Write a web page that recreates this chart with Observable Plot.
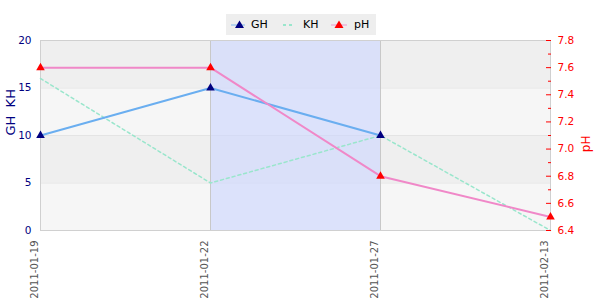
<!DOCTYPE html>
<html><head><meta charset="utf-8">
<script src="https://cdn.jsdelivr.net/npm/d3@7"></script>
<script src="https://cdn.jsdelivr.net/npm/@observablehq/plot@0.6"></script>
<style>
body{margin:0;background:#fff;font-family:"DejaVu Sans",sans-serif}
#wrap{position:relative;width:600px;height:300px}
#legend{position:absolute;left:226px;top:14px;width:150px;height:21px;background:#eeeeee;font-size:11px;color:#000}
#legend .it{position:absolute;top:0;height:21px;line-height:21px}
#legend svg{position:absolute;top:0}
</style></head><body>
<div id="wrap">
<div id="legend">
  <svg style="left:3px" width="18" height="21"><line x1="2" x2="16" y1="11" y2="11" stroke="#6aaef0" stroke-width="2" opacity="0.4"/><path d="M10.5,6.5 L15,14 L6,14Z" fill="#000080"/></svg>
  <span class="it" style="left:25px">GH</span>
  <svg style="left:56px" width="16" height="21"><line x1="1" x2="13" y1="11" y2="11" stroke="#99e6cc" stroke-width="2" stroke-dasharray="3,3"/></svg>
  <span class="it" style="left:77px">KH</span>
  <svg style="left:103px" width="20" height="21"><line x1="2" x2="18" y1="11" y2="11" stroke="#f088c8" stroke-width="2" opacity="0.4"/><path d="M10,6.5 L14.5,14 L5.5,14Z" fill="#ff0000"/></svg>
  <span class="it" style="left:128px">pH</span>
</div>
</div>
<script>
const dates = ["2011-01-19","2011-01-22","2011-01-27","2011-02-13"];
const gh = [10, 15, 10, null];
const kh = [16, 5, 10, 0];
const ph = [7.6, 7.6, 6.8, 6.5];
const leftTicks = [0, 5, 10, 15, 20];
const phMajor = [6.4, 6.6, 6.8, 7.0, 7.2, 7.4, 7.6, 7.8];
const phMinor = [6.5, 6.7, 6.9, 7.1, 7.3, 7.5, 7.7];
const bandLo = [0, 5, 10, 15];
const bandHi = [5, 10, 15, 20];
const bandFill = ["#f6f6f6", "#efefef", "#f6f6f6", "#efefef"];
const highlightFrom = "2011-01-22";
const highlightTo = "2011-01-27";
const phMin = 6.4, phMax = 7.8, leftMax = 20;

const toLeft = p => (p - phMin) / (phMax - phMin) * leftMax;
const rows = dates.map((d, i) => ({date: d, gh: gh[i], kh: kh[i], ph: toLeft(ph[i])}));
const bands = bandLo.map((lo, i) => ({lo, hi: bandHi[i], fill: bandFill[i]}));
const ghRows = rows.filter(r => r.gh != null);

const chart = Plot.plot({
  width: 600, height: 300,
  marginTop: 40, marginBottom: 70, marginLeft: 40, marginRight: 50,
  style: {fontFamily: "DejaVu Sans, sans-serif", background: "transparent", overflow: "visible"},
  x: {type: "point", domain: dates, padding: 0, axis: null},
  y: {domain: [0, leftMax], axis: null},
  marks: [
    Plot.rect(bands, {y1: "lo", y2: "hi", fill: "fill"}),
    Plot.ruleY([5, 10, 15], {stroke: "#e4e4e4"}),
    Plot.rect([{a: highlightFrom, b: highlightTo}], {x1: "a", x2: "b", y1: 0, y2: leftMax, fill: "#cbd6ff", fillOpacity: 0.6}),
    Plot.ruleX([highlightFrom, highlightTo], {stroke: "#c8c8c8"}),
    Plot.frame({stroke: "#d0d0d0"}),
    Plot.line(rows, {x: "date", y: "kh", stroke: "#99e6cc", strokeWidth: 1.5, strokeDasharray: "3,3"}),
    Plot.line(ghRows, {x: "date", y: "gh", stroke: "#6aaef0", strokeWidth: 2}),
    Plot.line(rows, {x: "date", y: "ph", stroke: "#f088c8", strokeWidth: 2}),
    Plot.dot(ghRows, {x: "date", y: "gh", symbol: "triangle", r: 3.2, fill: "#000080"}),
    Plot.dot(rows, {x: "date", y: "ph", symbol: "triangle", r: 3.2, fill: "#ff0000"}),
    Plot.axisY(leftTicks, {anchor: "left", tickSize: 0, tickPadding: 9, fill: "#000080", fontSize: 10.5, label: null}),
    Plot.axisY(phMajor.map(toLeft), {anchor: "right", tickSize: 5, dx: -5, text: null, stroke: "#ff0000", label: null}),
    Plot.axisY(phMinor.map(toLeft), {anchor: "right", tickSize: 3, dx: -3, text: null, stroke: "#ff0000", label: null}),
    Plot.axisY(phMajor.map(toLeft), {anchor: "right", tickSize: 0, tickPadding: 7, fill: "#ff0000", fontSize: 10.5, label: null,
      tickFormat: v => (v / leftMax * (phMax - phMin) + phMin).toFixed(1)}),
    Plot.axisX(dates, {anchor: "bottom", tickSize: 0, tickPadding: 10, tickRotate: -90, fill: "#555", fontSize: 10, dx: -6, label: null}),
    Plot.text(["GH\u00a0\u00a0KH"], {frameAnchor: "left", dx: -30, rotate: -90, fill: "#000080", fontSize: 13, text: d => d}),
    Plot.text(["pH"], {frameAnchor: "right", dx: 36, rotate: -90, fill: "#ff0000", fontSize: 12, text: d => d})
  ]
});
document.getElementById("wrap").insertBefore(chart, document.getElementById("legend"));
chart.style.position = "absolute";
chart.style.left = "0"; chart.style.top = "0";
</script>
</body></html>
